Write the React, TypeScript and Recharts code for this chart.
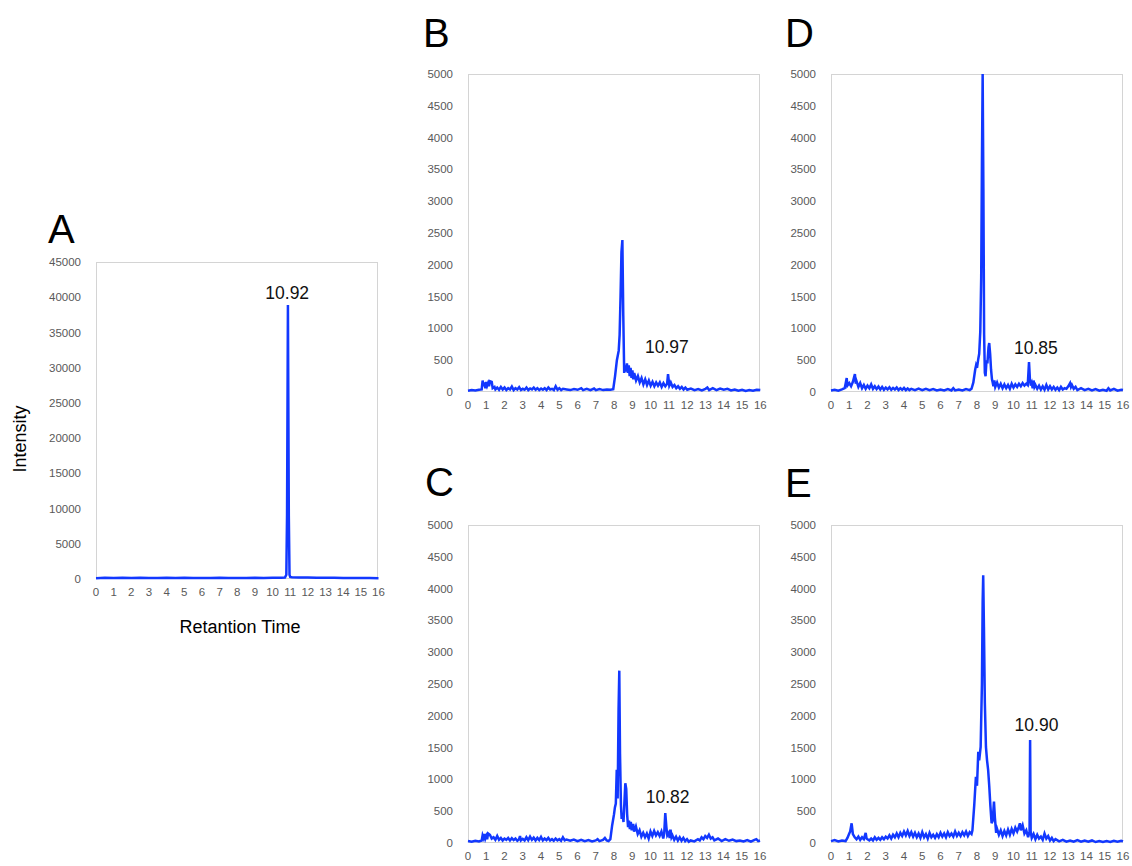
import React from 'react';
import { LineChart, Line, XAxis, YAxis, ReferenceDot } from 'recharts';

// retention time (min), intensity
const traceA: [number, number][] = [
  [0, 120], [0.5, 180], [1, 150], [1.5, 170], [2, 140], [2.5, 160], [3, 130], [3.5, 150], [4, 170],
  [4.5, 140], [5, 160], [5.5, 130], [6, 150], [6.5, 140], [7, 160], [7.5, 130], [8, 150], [8.5, 140],
  [9, 160], [9.5, 150], [10, 170], [10.5, 180], [10.7, 200], [10.78, 600], [10.82, 9000], [10.87, 38900],
  [10.92, 9000], [10.96, 600], [11.0, 300], [11.1, 250], [11.5, 200], [12, 230], [12.5, 180], [13, 160],
  [13.5, 170], [14, 140], [14.5, 150], [15, 130], [15.5, 140], [16, 120],
];

const traceB: [number, number][] = [
  [0, 20], [0.2, 30], [0.4, 25], [0.6, 35], [0.75, 40], [0.8, 180], [0.85, 90], [0.9, 150], [0.95, 60],
  [1.0, 160], [1.05, 100], [1.1, 140], [1.15, 90], [1.2, 170], [1.3, 160], [1.35, 60], [1.45, 80], [1.5, 40],
  [1.6, 70], [1.7, 35], [1.8, 80], [1.9, 40], [2.0, 70], [2.1, 30], [2.2, 60], [2.3, 40], [2.4, 85],
  [2.5, 30], [2.6, 60], [2.7, 40], [2.8, 75], [2.9, 30], [3.0, 50], [3.1, 35], [3.2, 70], [3.3, 30],
  [3.4, 55], [3.5, 40], [3.6, 70], [3.7, 35], [3.8, 60], [3.9, 30], [4.0, 55], [4.1, 35], [4.2, 60],
  [4.3, 30], [4.4, 70], [4.5, 40], [4.6, 50], [4.7, 30], [4.8, 90], [4.9, 35], [5.0, 60], [5.1, 30],
  [5.2, 50], [5.4, 40], [5.6, 30], [5.8, 45], [6.0, 35], [6.2, 60], [6.3, 30], [6.5, 50], [6.7, 30],
  [6.9, 55], [7.0, 30], [7.2, 45], [7.4, 30], [7.6, 40], [7.8, 35], [7.95, 45], [8.05, 250], [8.15, 500],
  [8.25, 650], [8.3, 900], [8.35, 1500], [8.4, 2200], [8.45, 2390], [8.5, 1200], [8.55, 300], [8.6, 420],
  [8.65, 320], [8.7, 450], [8.75, 300], [8.8, 420], [8.85, 250], [8.9, 380], [8.95, 220], [9.0, 340],
  [9.05, 200], [9.1, 300], [9.2, 180], [9.3, 250], [9.4, 150], [9.5, 220], [9.6, 120], [9.7, 200],
  [9.8, 110], [9.9, 180], [10.0, 100], [10.1, 160], [10.2, 90], [10.3, 150], [10.4, 100], [10.5, 150],
  [10.6, 80], [10.7, 140], [10.8, 90], [10.9, 130], [10.95, 280], [11.02, 100], [11.1, 150], [11.2, 80],
  [11.3, 110], [11.4, 60], [11.5, 90], [11.6, 50], [11.7, 80], [11.8, 40], [11.9, 70], [12.0, 35],
  [12.2, 55], [12.4, 30], [12.6, 45], [12.8, 25], [13.0, 50], [13.1, 70], [13.2, 30], [13.4, 60],
  [13.6, 30], [13.8, 55], [14.0, 35], [14.2, 50], [14.4, 25], [14.6, 40], [14.8, 20], [15.0, 35],
  [15.2, 15], [15.4, 30], [15.6, 20], [15.8, 35], [16, 30],
];

const traceC: [number, number][] = [
  [0, 30], [0.2, 20], [0.4, 35], [0.6, 25], [0.75, 40], [0.8, 120], [0.85, 80], [0.9, 140], [0.95, 70],
  [1.0, 110], [1.05, 60], [1.1, 150], [1.2, 130], [1.3, 70], [1.4, 90], [1.5, 50], [1.6, 110], [1.7, 50],
  [1.8, 80], [1.9, 40], [2.0, 70], [2.1, 50], [2.2, 80], [2.3, 40], [2.4, 75], [2.5, 45], [2.6, 70],
  [2.7, 35], [2.8, 60], [2.85, 110], [2.9, 40], [3.0, 65], [3.1, 40], [3.2, 90], [3.3, 45], [3.4, 100],
  [3.5, 50], [3.6, 85], [3.7, 40], [3.8, 80], [3.9, 45], [4.0, 95], [4.1, 40], [4.2, 70], [4.3, 45],
  [4.4, 80], [4.5, 40], [4.6, 60], [4.7, 35], [4.8, 70], [4.9, 40], [5.0, 60], [5.1, 35], [5.2, 90],
  [5.3, 40], [5.4, 55], [5.6, 35], [5.8, 55], [6.0, 30], [6.2, 50], [6.4, 30], [6.6, 45], [6.8, 25],
  [7.0, 40], [7.1, 60], [7.2, 30], [7.4, 50], [7.5, 80], [7.6, 40], [7.7, 30], [7.8, 60], [7.9, 280],
  [8.0, 450], [8.05, 560], [8.1, 620], [8.15, 1150], [8.2, 700], [8.25, 2100], [8.29, 2710], [8.33, 1400],
  [8.38, 600], [8.42, 380], [8.47, 460], [8.52, 330], [8.58, 700], [8.62, 940], [8.67, 850], [8.72, 450],
  [8.77, 250], [8.82, 350], [8.87, 220], [8.92, 330], [8.97, 200], [9.05, 300], [9.1, 180], [9.2, 260],
  [9.3, 140], [9.4, 200], [9.5, 100], [9.6, 160], [9.7, 90], [9.8, 150], [9.9, 70], [10.0, 180],
  [10.1, 110], [10.2, 190], [10.3, 120], [10.4, 170], [10.5, 110], [10.6, 180], [10.7, 70], [10.75, 150],
  [10.81, 470], [10.87, 250], [10.92, 120], [11.0, 160], [11.05, 80], [11.1, 210], [11.15, 90], [11.2, 120],
  [11.3, 50], [11.4, 100], [11.5, 40], [11.6, 90], [11.7, 35], [11.8, 80], [11.9, 30], [12.0, 60],
  [12.1, 20], [12.2, 40], [12.4, 25], [12.6, 60], [12.7, 40], [12.8, 90], [12.9, 60], [13.0, 110],
  [13.1, 80], [13.2, 130], [13.3, 70], [13.4, 90], [13.5, 40], [13.7, 70], [13.9, 30], [14.1, 60],
  [14.3, 35], [14.5, 55], [14.7, 30], [14.9, 40], [15.1, 25], [15.3, 45], [15.5, 20], [15.7, 50],
  [15.8, 60], [15.9, 30], [16, 40],
];

const traceD: [number, number][] = [
  [0, 25], [0.2, 35], [0.4, 20], [0.6, 40], [0.75, 60], [0.8, 130], [0.86, 220], [0.9, 100], [1.0, 140],
  [1.1, 90], [1.2, 160], [1.31, 280], [1.36, 130], [1.4, 170], [1.5, 80], [1.6, 140], [1.7, 60], [1.8, 110],
  [1.9, 50], [2.0, 100], [2.1, 60], [2.2, 120], [2.3, 50], [2.4, 90], [2.5, 45], [2.6, 85], [2.7, 40],
  [2.8, 80], [2.9, 35], [3.0, 70], [3.1, 40], [3.2, 75], [3.3, 35], [3.4, 65], [3.5, 40], [3.6, 70],
  [3.7, 30], [3.8, 60], [3.9, 35], [4.0, 65], [4.1, 30], [4.2, 55], [4.3, 30], [4.4, 50], [4.6, 30],
  [4.8, 55], [5.0, 30], [5.2, 50], [5.4, 30], [5.6, 45], [5.8, 25], [6.0, 40], [6.2, 25], [6.4, 45],
  [6.6, 25], [6.7, 60], [6.8, 25], [7.0, 40], [7.2, 25], [7.4, 45], [7.6, 30], [7.7, 50], [7.8, 150],
  [7.9, 350], [7.95, 420], [8.0, 380], [8.07, 520], [8.12, 600], [8.18, 950], [8.23, 1800], [8.27, 3600],
  [8.31, 5000], [8.35, 3200], [8.39, 900], [8.43, 300], [8.47, 250], [8.52, 500], [8.57, 450], [8.63, 700],
  [8.67, 770], [8.72, 600], [8.77, 350], [8.82, 200], [8.86, 150], [8.9, 90], [8.95, 180], [9.0, 80],
  [9.1, 150], [9.2, 70], [9.3, 130], [9.4, 60], [9.5, 120], [9.6, 60], [9.7, 110], [9.8, 50], [9.9, 130],
  [10.0, 70], [10.1, 120], [10.2, 80], [10.3, 130], [10.4, 90], [10.5, 140], [10.6, 100], [10.7, 130],
  [10.78, 110], [10.85, 470], [10.9, 200], [10.95, 100], [11.0, 140], [11.05, 60], [11.1, 180], [11.15, 80],
  [11.2, 110], [11.3, 50], [11.4, 100], [11.5, 40], [11.6, 90], [11.7, 35], [11.8, 110], [11.9, 40],
  [12.0, 90], [12.1, 40], [12.2, 80], [12.3, 35], [12.4, 70], [12.5, 30], [12.6, 80], [12.7, 40],
  [12.8, 60], [12.9, 50], [13.0, 90], [13.1, 140], [13.15, 80], [13.2, 110], [13.3, 50], [13.4, 80],
  [13.5, 30], [13.7, 60], [13.9, 30], [14.1, 50], [14.3, 25], [14.5, 45], [14.7, 20], [14.9, 35],
  [15.1, 20], [15.2, 60], [15.3, 25], [15.5, 50], [15.7, 20], [15.9, 35], [16, 30],
];

const traceE: [number, number][] = [
  [0, 30], [0.2, 45], [0.4, 25], [0.6, 40], [0.8, 30], [0.9, 80], [1.0, 150], [1.05, 180], [1.13, 310],
  [1.2, 140], [1.3, 90], [1.4, 60], [1.5, 100], [1.6, 50], [1.7, 90], [1.8, 60], [1.9, 160], [1.95, 70],
  [2.0, 60], [2.1, 40], [2.2, 70], [2.3, 40], [2.4, 90], [2.5, 50], [2.6, 80], [2.7, 50], [2.8, 90],
  [2.9, 60], [3.0, 100], [3.1, 70], [3.2, 120], [3.3, 70], [3.4, 130], [3.5, 90], [3.6, 150], [3.7, 90],
  [3.8, 160], [3.9, 110], [4.0, 180], [4.1, 120], [4.2, 190], [4.3, 110], [4.4, 170], [4.5, 100],
  [4.6, 160], [4.7, 90], [4.8, 150], [4.9, 80], [5.0, 170], [5.1, 90], [5.2, 140], [5.3, 70], [5.4, 160],
  [5.5, 90], [5.6, 130], [5.7, 80], [5.8, 140], [5.9, 90], [6.0, 160], [6.1, 100], [6.2, 150], [6.3, 90],
  [6.4, 170], [6.5, 110], [6.6, 150], [6.7, 100], [6.8, 180], [6.9, 110], [7.0, 160], [7.1, 110],
  [7.2, 170], [7.3, 120], [7.4, 180], [7.5, 110], [7.6, 170], [7.7, 140], [7.75, 200], [7.85, 600],
  [7.94, 1040], [8.0, 900], [8.07, 1435], [8.12, 1300], [8.2, 1510], [8.27, 2500], [8.31, 3800],
  [8.34, 4210], [8.38, 3400], [8.43, 2200], [8.49, 1510], [8.55, 1300], [8.61, 1150], [8.67, 900],
  [8.73, 600], [8.8, 310], [8.86, 350], [8.93, 650], [8.98, 400], [9.05, 160], [9.1, 220], [9.2, 130],
  [9.3, 200], [9.4, 110], [9.5, 190], [9.6, 120], [9.7, 210], [9.8, 130], [9.9, 220], [10.0, 150],
  [10.1, 240], [10.2, 180], [10.3, 260], [10.35, 310], [10.4, 200], [10.5, 280], [10.6, 150], [10.7, 200],
  [10.8, 90], [10.88, 180], [10.91, 1620], [10.94, 180], [11.0, 80], [11.1, 140], [11.2, 60], [11.3, 130],
  [11.4, 70], [11.5, 100], [11.6, 50], [11.7, 150], [11.8, 70], [11.9, 110], [12.0, 40], [12.1, 80],
  [12.2, 30], [12.3, 60], [12.5, 25], [12.7, 50], [12.9, 20], [13.1, 40], [13.3, 20], [13.5, 45],
  [13.7, 20], [13.9, 40], [14.1, 20], [14.3, 40], [14.5, 15], [14.7, 30], [14.9, 15], [15.1, 30],
  [15.3, 15], [15.5, 35], [15.7, 20], [15.9, 35], [16, 25],
];

const timeTicks = [0, 1, 2, 3, 4, 5, 6, 7, 8, 9, 10, 11, 12, 13, 14, 15, 16];
const ticksA = [0, 5000, 10000, 15000, 20000, 25000, 30000, 35000, 40000, 45000];
const ticksSample = [0, 500, 1000, 1500, 2000, 2500, 3000, 3500, 4000, 4500, 5000];

const BLUE = '#1238ff';
const TICK_GRAY = '#595959';
const FONT = '"Liberation Sans", Arial, sans-serif';

const YW = 80;
const MT = 10;
const MR = 10;
const XH = 30;

type PanelProps = {
  left: number;
  top: number;
  w: number;
  h: number;
  trace: [number, number][];
  yTicks: number[];
  peakLabel: string;
  labelAt: [number, number];
};

function Panel({ left, top, w, h, trace, yTicks, peakLabel, labelAt }: PanelProps) {
  const data = trace.map(([t, v]) => ({ t, v }));
  const yMax = yTicks[yTicks.length - 1];
  return (
    <>
      <div
        style={{
          position: 'absolute',
          left,
          top,
          width: w,
          height: h,
          border: '1px solid #d4d4d4',
          boxSizing: 'border-box',
        }}
      />
      <div style={{ position: 'absolute', left: left - YW, top: top - MT }}>
        <LineChart
          width={YW + w + MR}
          height={MT + h + XH}
          data={data}
          margin={{ top: MT, right: MR, left: 0, bottom: 0 }}
        >
          <XAxis
            dataKey="t"
            type="number"
            domain={[0, 16]}
            ticks={timeTicks}
            interval={0}
            height={XH}
            axisLine={false}
            tickLine={false}
            tickSize={0}
            tickMargin={9}
            tick={{ fill: TICK_GRAY, fontSize: 11.5, fontFamily: FONT }}
          />
          <YAxis
            type="number"
            domain={[0, yMax]}
            ticks={yTicks}
            interval={0}
            width={YW}
            axisLine={false}
            tickLine={false}
            tickSize={0}
            tickMargin={15}
            tick={{ fill: TICK_GRAY, fontSize: 11.5, fontFamily: FONT }}
          />
          <Line
            dataKey="v"
            stroke={BLUE}
            strokeWidth={2.5}
            dot={false}
            type="linear"
            isAnimationActive={false}
          />
          <ReferenceDot
            x={labelAt[0]}
            y={labelAt[1]}
            r={1}
            fill="none"
            stroke="none"
            label={{ value: peakLabel, position: 'center', fill: '#111', fontSize: 17.5, fontFamily: FONT }}
          />
        </LineChart>
      </div>
    </>
  );
}

export default function App() {
  return (
    <div style={{ position: 'absolute', left: 0, top: 0, width: 1132, height: 866, background: '#fff', fontFamily: FONT }}>
      <Panel left={95.5} top={262} w={282.5} h={317} trace={traceA} yTicks={ticksA} peakLabel="10.92" labelAt={[10.83, 40600]} />
      <Panel left={467.7} top={74} w={292.3} h={318} trace={traceB} yTicks={ticksSample} peakLabel="10.97" labelAt={[10.89, 712]} />
      <Panel left={831} top={74} w={292} h={318} trace={traceD} yTicks={ticksSample} peakLabel="10.85" labelAt={[11.23, 703]} />
      <Panel left={468} top={525} w={292} h={318} trace={traceC} yTicks={ticksSample} peakLabel="10.82" labelAt={[10.94, 728]} />
      <Panel left={831} top={525} w={292} h={318} trace={traceE} yTicks={ticksSample} peakLabel="10.90" labelAt={[11.26, 1855]} />
      <svg width={1132} height={866} style={{ position: 'absolute', left: 0, top: 0, pointerEvents: 'none' }}>
        <g fontFamily={FONT} fill="#000">
          <text x={48} y={243} fontSize={40}>A</text>
          <text x={423} y={47} fontSize={40}>B</text>
          <text x={785} y={47} fontSize={40}>D</text>
          <text x={425} y={496} fontSize={40}>C</text>
          <text x={785} y={497} fontSize={40}>E</text>
          <text x={240} y={633} fontSize={18} textAnchor="middle">Retantion Time</text>
          <text transform="translate(25.5, 439) rotate(-90)" fontSize={18} textAnchor="middle">Intensity</text>
        </g>
      </svg>
    </div>
  );
}
